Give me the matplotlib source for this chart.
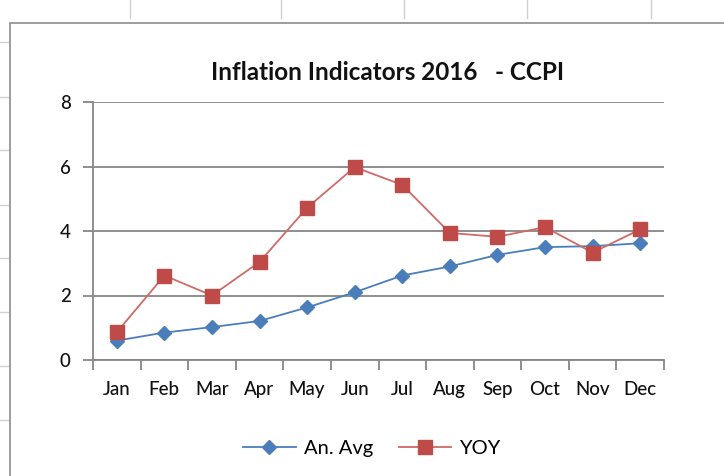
import numpy as np
import matplotlib.pyplot as plt
from matplotlib.lines import Line2D
from matplotlib.patches import Rectangle

months = ['Jan', 'Feb', 'Mar', 'Apr', 'May', 'Jun', 'Jul', 'Aug', 'Sep', 'Oct', 'Nov', 'Dec']
an_avg = [0.6, 0.85, 1.02, 1.21, 1.63, 2.1, 2.62, 2.9, 3.26, 3.5, 3.53, 3.62]
yoy = [0.86, 2.62, 2.0, 3.04, 4.72, 5.98, 5.43, 3.94, 3.82, 4.12, 3.33, 4.05]
yticks = [0, 2, 4, 6, 8]

plt.rcParams['font.family'] = ['Lato', 'DejaVu Sans']
blue = '#4A7EBB'
red = '#BE4B48'
grid_col = '#868686'
txt = '#111111'

fig = plt.figure(figsize=(7.24, 4.76), dpi=100)

# spreadsheet background bits
for x in [130, 281, 404, 527, 651]:
    fig.add_artist(Line2D([x / 724, x / 724], [1, 1 - 18 / 476], color='#d0d0d0', lw=1, zorder=-2))
for y in [42, 97, 150, 205, 258, 312, 366, 420]:
    fig.add_artist(Line2D([0, 8 / 724], [1 - y / 476] * 2, color='#d0d0d0', lw=1, zorder=-2))
fig.add_artist(Rectangle((10 / 724, -0.01), 1.0, 1 - 23 / 476 + 0.01, transform=fig.transFigure,
                         facecolor='white', edgecolor='#8c8c8c', lw=1.2, zorder=-1))

ax = fig.add_axes([93 / 724, 1 - 360 / 476, 571 / 724, 258 / 476])
ax.patch.set_alpha(0)
x = np.arange(len(months))
ax.plot(x, an_avg, color=blue, lw=1.3, marker='D', ms=7, mfc=blue, mec=blue, zorder=3, clip_on=False)
ax.plot(x, yoy, color='#D06A67', lw=1.3, marker='s', ms=9.5, mfc=red, mec=red, zorder=4, clip_on=False)

ax.set_xlim(-0.5, 11.5)
ax.set_ylim(0, 8)
ax.set_yticks(yticks)
ax.set_yticklabels([str(v) for v in yticks], fontsize=13.5, color=txt, fontweight='medium')
ax.set_xticks(x)
ax.set_xticklabels(months, fontsize=13.5, color=txt, fontweight='medium')
ax.set_xticks(np.arange(-0.5, 12, 1), minor=True)
ax.tick_params(axis='x', which='major', length=0, pad=15)
ax.tick_params(axis='x', which='minor', length=7, color=grid_col, width=1.3, direction='out')
ax.tick_params(axis='y', length=7, color=grid_col, width=1.3, pad=9)
ax.yaxis.grid(True, color=grid_col, lw=1.3)
ax.set_axisbelow(True)
for s in ['top', 'right']:
    ax.spines[s].set_visible(False)
for s in ['left', 'bottom']:
    ax.spines[s].set_color(grid_col)
    ax.spines[s].set_linewidth(1.3)

fig.text(388 / 724, 1 - 72 / 476, 'Inflation Indicators 2016   - CCPI', ha='center', va='center',
         fontsize=17.5, fontweight='bold', color=txt)

h1 = Line2D([], [], color=blue, lw=1.3, marker='D', ms=7, mfc=blue, mec=blue)
h2 = Line2D([], [], color='#D06A67', lw=1.3, marker='s', ms=9.5, mfc=red, mec=red)
fig.legend([h1, h2], ['An. Avg', 'YOY'], loc='center', bbox_to_anchor=(372 / 724, 1 - 448 / 476),
           ncol=2, frameon=False, fontsize=14.5, handlelength=2.6, columnspacing=1.3, handletextpad=0.4)

fig.savefig('out.png', dpi=100)
